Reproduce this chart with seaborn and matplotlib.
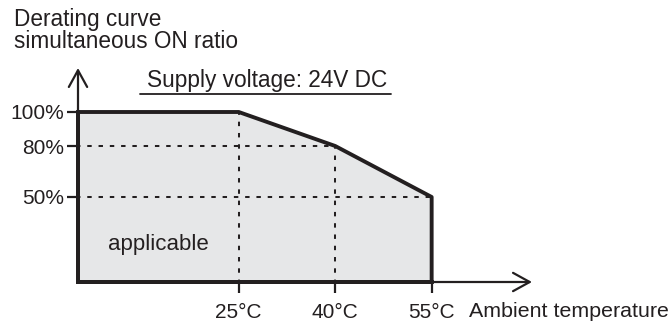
import numpy as np
import pandas as pd
import seaborn as sns
import matplotlib.pyplot as plt

# derating curve data
temps = [0, 25, 40, 55]          # ambient temperature, °C
ratios = [100, 100, 80, 50]      # simultaneous ON ratio, %
x_ticks = [25, 40, 55]
x_tick_labels = ['25°C', '40°C', '55°C']
y_ticks = [50, 80, 100]
y_tick_labels = ['50%', '80%', '100%']

INK = '#231f20'
FILL = '#e6e7e8'

# pixel layout of the reference (origin of the plot, pixels per unit)
W, H = 670, 322
X0, SX = 78, 6.43
Y0, SY = 282, 1.7

sns.set_theme(style="white")
plt.rcParams['font.family'] = ['Liberation Sans', 'DejaVu Sans']
plt.rcParams['text.color'] = INK

fig = plt.figure(figsize=(W / 100, H / 100), dpi=100)
ax = fig.add_axes([0, 0, 1, 1])
ax.set_xlim(-X0 / SX, (W - X0) / SX)
ax.set_ylim(-(H - Y0) / SY, Y0 / SY)
ax.patch.set_alpha(0)

# shaded applicable area
ax.fill_between(temps, ratios, 0, color=FILL, lw=0, zorder=1)

# guide lines
dash = (1.0, (2.2, 3.4))
lw_d = 1.45
ax.plot([0, temps[2]], [ratios[2], ratios[2]], color=INK, lw=lw_d, ls=dash, zorder=2)
ax.plot([0, temps[3]], [ratios[3], ratios[3]], color=INK, lw=lw_d, ls=dash, zorder=2)
ax.plot([temps[1], temps[1]], [0, ratios[1]], color=INK, lw=lw_d, ls=dash, zorder=2)
ax.plot([temps[2], temps[2]], [0, ratios[2]], color=INK, lw=lw_d, ls=dash, zorder=2)

# outline of the area
outline = pd.DataFrame({'t': [0] + temps + [temps[-1], 0],
                        'r': [0] + ratios + [0, 0]})
sns.lineplot(data=outline, x='t', y='r', sort=False, estimator=None,
             color=INK, lw=2.8, ax=ax, zorder=3)
ax.set_xlabel('')
ax.set_ylabel('')

# axes as spines through the origin
for side in ['top', 'right']:
    ax.spines[side].set_visible(False)
ax.spines['left'].set_position(('data', 0))
ax.spines['bottom'].set_position(('data', 0))
ax.spines['left'].set_bounds(0, ratios[0])
ax.spines['bottom'].set_bounds(0, temps[-1])
for side in ['left', 'bottom']:
    ax.spines[side].set_color(INK)
    ax.spines[side].set_linewidth(2.8)
    ax.spines[side].set_zorder(3)

ax.set_xticks(x_ticks)
ax.set_xticklabels(x_tick_labels)
ax.set_yticks(y_ticks)
ax.set_yticklabels(y_tick_labels)
ax.tick_params(axis='both', direction='out', length=7.8, width=1.6,
               color=INK, labelcolor=INK, labelsize=15)
ax.tick_params(axis='x', pad=7.5)
ax.tick_params(axis='y', pad=2.5)
ax.tick_params(left=True, bottom=True)

# axis arrows
arrow = dict(arrowstyle='->,head_length=1.0,head_width=0.55', lw=1.6,
             color=INK, shrinkA=0, shrinkB=0)
ax.annotate('', xy=(0, (Y0 - 68) / SY), xytext=(0, ratios[0]), arrowprops=arrow)
ax.annotate('', xy=((532 - X0) / SX, 0), xytext=(temps[-1], 0), arrowprops=arrow)

# texts
def px(x, y):
    return x / W, 1 - y / H

ax.text(*px(14, 26), 'Derating curve', transform=ax.transAxes,
        fontsize=16.3, va='baseline', ha='left')
ax.text(*px(14, 48), 'simultaneous ON ratio', transform=ax.transAxes,
        fontsize=16.3, va='baseline', ha='left')
ax.text(*px(147, 87), 'Supply voltage: 24V DC', transform=ax.transAxes,
        fontsize=16.3, va='baseline', ha='left')
ax.plot([px(140, 94)[0], px(391, 94)[0]], [px(140, 94)[1]] * 2,
        transform=ax.transAxes, color=INK, lw=1.3)
ax.text(*px(108, 250), 'applicable', transform=ax.transAxes,
        fontsize=16, va='baseline', ha='left')
ax.text(*px(469, 317), 'Ambient temperature', transform=ax.transAxes,
        fontsize=15.4, va='baseline', ha='left')

fig.savefig('out.png', dpi=100)
